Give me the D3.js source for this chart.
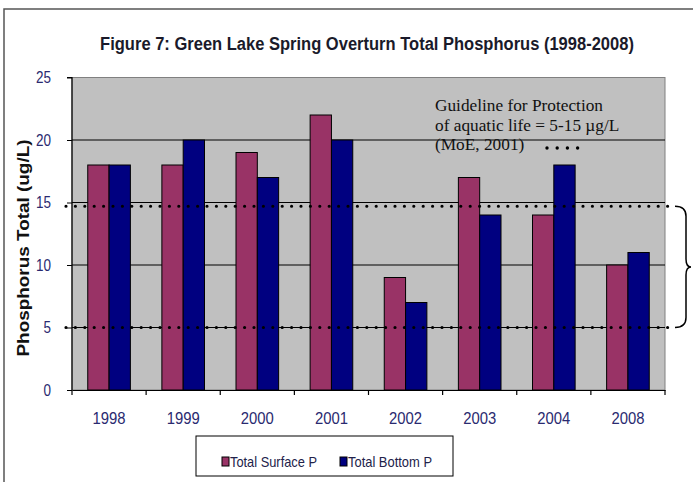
<!DOCTYPE html>
<html><head><meta charset="utf-8">
<script src="https://cdn.jsdelivr.net/npm/d3@7"></script>
<style>body{margin:0;background:#fff}svg{display:block}</style>
</head><body>
<svg id="c" width="693" height="482"></svg>
<script>
const categories = ["1998","1999","2000","2001","2002","2003","2004","2008"];
const seriesNames = ["Total Surface P","Total Bottom P"];
const surfaceP = [18,18,19,22,9,17,14,10];
const bottomP = [18,20,17,20,7,14,18,11];
const yTicks = [0,5,10,15,20,25];
const guideline = [5, 14.7];
const colors = ["#993366","#000080"];
const sans = "'Liberation Sans',Arial,sans-serif";

const svg = d3.select("#c");
const M = {l:72, r:665, t:77.5, b:390};

// squeeze a text horizontally to a target width around anchor (cx, cy)
function squeeze(sel, cx, cy, w, anchor) {
  sel.attr("x",0).attr("y",0).attr("text-anchor",anchor||"start");
  const len = sel.node().getComputedTextLength();
  const s = Math.min(1, w/len);
  sel.attr("transform",`translate(${cx},${cy}) scale(${s},1)`);
}

// frame
svg.append("path").attr("d","M4,482 L4,9 L693,9").attr("fill","none").attr("stroke","#555").attr("stroke-width",1.5);

// title
const title = svg.append("text")
  .attr("font-family",sans).attr("font-weight","bold").attr("font-size",19).attr("fill","#1a1a2a")
  .text("Figure 7: Green Lake Spring Overturn Total Phosphorus (1998-2008)");
squeeze(title, 367, 50, 534, "middle");

const x0 = d3.scaleBand().domain(categories).range([M.l,M.r]).padding(0);
const bw = x0.bandwidth();
const x1 = d3.scaleBand().domain(seriesNames).range([bw*0.2125, bw*0.7875]).padding(0);
const y = d3.scaleLinear().domain([0,25]).range([M.b,M.t]);

// plot bg
svg.append("rect").attr("x",M.l).attr("y",M.t).attr("width",M.r-M.l).attr("height",M.b-M.t)
  .attr("fill","#c0c0c0").attr("stroke","#808080").attr("stroke-width",1);

// gridlines
svg.append("g").selectAll("line").data(yTicks.filter(d=>d>0 && d<25)).join("line")
  .attr("x1",M.l).attr("x2",M.r).attr("y1",d=>y(d)).attr("y2",d=>y(d))
  .attr("stroke","#000").attr("stroke-width",1);

// bars
const rows = categories.map((c,i)=>({c, vals:[surfaceP[i],bottomP[i]]}));
svg.append("g").selectAll("g").data(rows).join("g")
  .attr("transform",d=>`translate(${x0(d.c)},0)`)
  .selectAll("rect").data(d=>d.vals.map((v,j)=>({v,s:seriesNames[j],j}))).join("rect")
  .attr("x",d=>x1(d.s)).attr("width",x1.bandwidth())
  .attr("y",d=>y(d.v)).attr("height",d=>y(0)-y(d.v))
  .attr("fill",d=>colors[d.j]).attr("stroke","#000").attr("stroke-width",1);

// y axis
const ya = svg.append("g").attr("transform",`translate(${M.l},0)`)
  .call(d3.axisLeft(y).tickValues(yTicks).tickSize(5).tickPadding(16));
ya.select(".domain").attr("stroke","#000").attr("stroke-width",1.2).attr("d",`M-5,${M.t}H0V${M.b}`);
ya.selectAll("text").attr("font-family",sans).attr("font-size",17).attr("fill","#2a2a70")
  .attr("textLength",d=>String(d).length*7.5).attr("lengthAdjust","spacingAndGlyphs");

// x axis
const xa = svg.append("g").attr("transform",`translate(0,${M.b})`)
  .call(d3.axisBottom(x0).tickSize(0).tickPadding(22));
xa.select(".domain").attr("stroke","#000").attr("stroke-width",1.2);
xa.selectAll("text").attr("font-family",sans).attr("font-size",17).attr("fill","#2a2a70")
  .attr("textLength",33).attr("lengthAdjust","spacingAndGlyphs");
xa.append("g").selectAll("line").data(categories.concat(["end"])).join("line")
  .attr("x1",(d,i)=>M.l+i*bw).attr("x2",(d,i)=>M.l+i*bw).attr("y1",0).attr("y2",5)
  .attr("stroke","#000").attr("stroke-width",1.2);

// y label
svg.append("text").attr("transform","translate(29,248) rotate(-90)").attr("text-anchor","middle")
  .attr("font-family",sans).attr("font-weight","bold").attr("font-size",16).attr("fill","#111")
  .attr("textLength",217).attr("lengthAdjust","spacingAndGlyphs")
  .text("Phosphorus Total (ug/L)");

// guideline dotted lines
svg.append("g").selectAll("line").data(guideline).join("line")
  .attr("x1",66).attr("x2",668).attr("y1",d=>y(d)).attr("y2",d=>y(d))
  .attr("stroke","#000").attr("stroke-width",3.2).attr("stroke-linecap","round").attr("stroke-dasharray","0 9.4");

// annotation
const ann = svg.append("text").attr("font-family","'Liberation Serif','Times New Roman',serif").attr("font-size",17.3).attr("fill","#111");
[["Guideline for Protection",111],["of aquatic life = 5-15 \u00b5g/L",131],["(MoE, 2001)",150]].forEach(([t,yy])=>{
  ann.append("tspan").attr("x",435).attr("y",yy).text(t);
});
svg.append("g").selectAll("circle").data([0,1,2,3]).join("circle")
  .attr("cx",d=>547+d*10.2).attr("cy",148).attr("r",1.7).attr("fill","#000");

// brace
const yt = y(guideline[1]), yb = y(guideline[0]), ym = (yt+yb)/2;
svg.append("path").attr("fill","none").attr("stroke","#000").attr("stroke-width",1.5)
  .attr("d",`M675,${yt} Q686,${yt} 686,${yt+10} L686,${ym-8} Q686,${ym} 691,${ym} Q686,${ym} 686,${ym+8} L686,${yb-10} Q686,${yb} 675,${yb}`);

// legend
const lg = svg.append("g");
lg.append("rect").attr("x",196).attr("y",436).attr("width",257).attr("height",40).attr("fill","#fff").attr("stroke","#000").attr("stroke-width",1);
const lx = [222, 340];
const lw = [87, 84];
seriesNames.forEach((s,i)=>{
  lg.append("rect").attr("x",lx[i]).attr("y",457).attr("width",7).attr("height",9).attr("fill",colors[i]).attr("stroke","#000").attr("stroke-width",1);
  lg.append("text").attr("x",lx[i]+8).attr("y",467).attr("font-family",sans).attr("font-size",15).attr("fill","#22224a")
    .attr("textLength",lw[i]).attr("lengthAdjust","spacingAndGlyphs").text(s);
});
</script>
</body></html>
